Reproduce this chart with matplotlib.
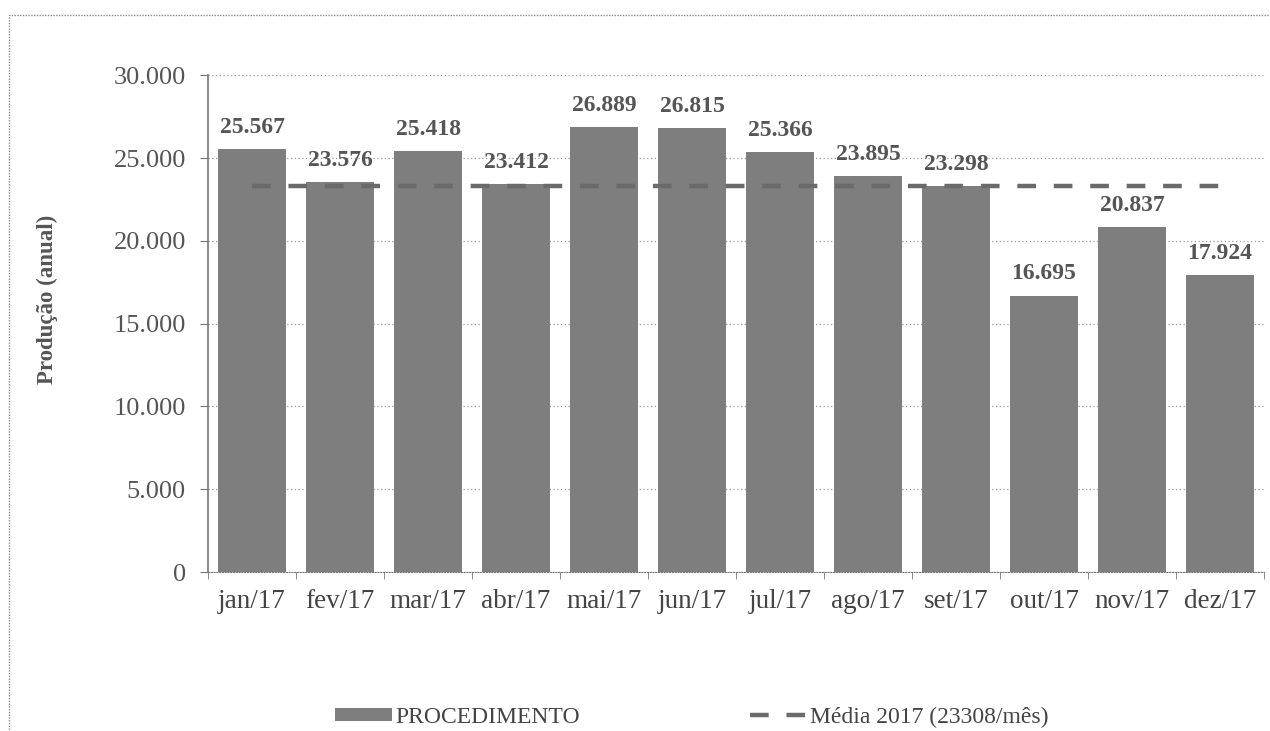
import matplotlib
matplotlib.use("Agg")
import matplotlib.pyplot as plt
from matplotlib.patches import Rectangle
from matplotlib.ticker import FuncFormatter, MultipleLocator
import numpy as np

months = ["jan/17", "fev/17", "mar/17", "abr/17", "mai/17", "jun/17",
          "jul/17", "ago/17", "set/17", "out/17", "nov/17", "dez/17"]
producao = [25567, 23576, 25418, 23412, 26889, 26815,
            25366, 23895, 23298, 16695, 20837, 17924]
media = 23308
bar_label = "PROCEDIMENTO"
media_label = "Média 2017 (23308/mês)"

plt.rcParams['font.family'] = ['Liberation Serif', 'DejaVu Serif']

fig = plt.figure(figsize=(12.7, 7.31), dpi=100)
ax = fig.add_axes([0.1638, 0.2175, 0.8315, 0.6795])

x = np.arange(len(months))
bars = ax.bar(x, producao, width=0.78, color="#7e7e7e", label=bar_label, zorder=2)
line, = ax.plot(x, [media] * len(months), color="#6a6a6a", lw=3.2, dashes=(4.2, 4.0),
                label=media_label, zorder=3)

for xi, v in zip(x, producao):
    ax.annotate(f"{v:,}".replace(",", "."), (xi, v), xytext=(0, 8),
                textcoords="offset points", ha="center", va="bottom",
                fontsize=17, fontweight="bold", color="#555555")

ax.set_xlim(-0.5, len(months) - 0.5)
ax.set_ylim(0, 30000)
ax.yaxis.set_major_locator(MultipleLocator(5000))
ax.yaxis.set_major_formatter(FuncFormatter(lambda v, p: f"{int(v):,}".replace(",", ".")))
ax.set_xticks(x)
ax.set_xticklabels(months)
ax.set_xticks(np.arange(-0.5, len(months), 1), minor=True)
ax.tick_params(axis="x", which="major", length=0, pad=12, labelsize=19.5, labelcolor="#444444")
ax.tick_params(axis="x", which="minor", length=5, color="#777777", direction="out")
ax.tick_params(axis="y", length=6, pad=10, labelsize=19, labelcolor="#555555", color="#777777")

ax.grid(axis="y", linestyle=(0, (1, 2)), color="#9a9a9a", lw=0.9, zorder=0)
for s in ["top", "right"]:
    ax.spines[s].set_visible(False)
ax.spines["bottom"].set_linestyle((0, (1, 1.5)))
ax.spines["bottom"].set_color("#777777")
ax.spines["left"].set_color("#777777")
ax.spines["left"].set_linewidth(1.2)

fig.text(0.037, 0.59, "Produção (anual)", rotation=90, ha="center", va="center",
         fontsize=16.5, fontweight="bold", color="#555555")

leg = fig.legend(handles=[bars, line], labels=[bar_label, media_label],
                 loc="center left", bbox_to_anchor=(335 / 1270, 0.019), ncol=2,
                 frameon=False, borderpad=0, borderaxespad=0,
                 fontsize=17, columnspacing=7.2, handlelength=2.4, handleheight=0.45,
                 handletextpad=0.15, labelcolor="#444444")

fig.patches.append(Rectangle((0.007, -0.02), 1.05, 0.9995, transform=fig.transFigure,
                             fill=False, edgecolor="#888888", lw=1.0, linestyle=(0, (1, 1))))

fig.savefig("out.png", dpi=100)
